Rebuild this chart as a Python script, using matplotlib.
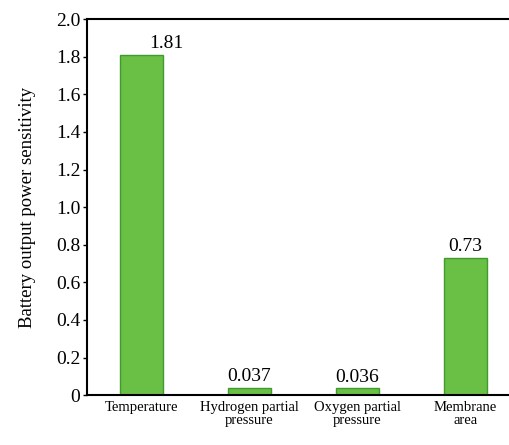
import matplotlib.pyplot as plt

categories = ["Temperature", "Hydrogen partial\npressure", "Oxygen partial\npressure", "Membrane\narea"]
sensitivity = [1.81, 0.037, 0.036, 0.73]
value_labels = ["1.81", "0.037", "0.036", "0.73"]

plt.rcParams['font.family'] = ['Liberation Serif', 'DejaVu Serif']

fig = plt.figure(figsize=(5.1, 4.45), dpi=100)
ax = fig.add_axes([0.171, 0.112, 0.847, 0.845])

x = range(len(categories))
ax.bar(x, sensitivity, width=0.4, color="#6abf45", edgecolor="#3f9b2e", linewidth=1.0)

# the top label is nudged right so it does not sit against the frame
dx = [18, 0, 0, 0]
for i, v in enumerate(sensitivity):
    ax.annotate(value_labels[i], (i, v), xytext=(dx[i], 2), textcoords="offset points",
                ha="center", va="bottom", fontsize=14)

ax.set_xlim(-0.5, 3.5)
ax.set_ylim(0, 2.0)
ax.set_yticks([0, 0.2, 0.4, 0.6, 0.8, 1.0, 1.2, 1.4, 1.6, 1.8, 2.0])
ax.set_yticklabels(["0", "0.2", "0.4", "0.6", "0.8", "1.0", "1.2", "1.4", "1.6", "1.8", "2.0"], fontsize=14)
ax.set_xticks(list(x))
ax.set_xticklabels(categories, fontsize=10.5, linespacing=1.0)
ax.tick_params(axis="x", length=0, pad=4)
ax.tick_params(axis="y", direction="out", length=3, width=1, pad=2)
ax.set_ylabel("Battery output power sensitivity", fontsize=13.5, labelpad=14)

for s in ax.spines.values():
    s.set_linewidth(1.5)

fig.savefig("out.png", dpi=100)
